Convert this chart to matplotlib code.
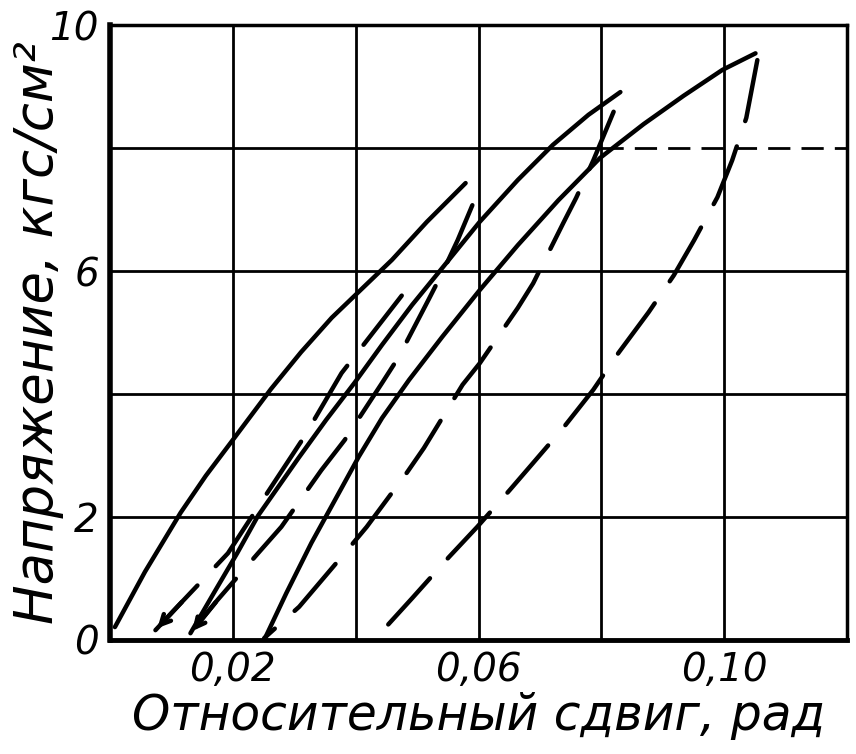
import matplotlib.pyplot as plt

# loading curves (solid)
load1_x = [0.0008, 0.0057, 0.0115, 0.0156, 0.0202, 0.0262, 0.0311, 0.0361, 0.0410, 0.0459, 0.0516, 0.0579]
load1_y = [0.21, 1.11, 2.07, 2.67, 3.28, 4.08, 4.68, 5.24, 5.71, 6.18, 6.80, 7.43]
load2_x = [0.0131, 0.0170, 0.0207, 0.0241, 0.0307, 0.0352, 0.0398, 0.0443, 0.0492, 0.0541,
           0.0602, 0.0664, 0.0721, 0.0779, 0.0831]
load2_y = [0.11, 0.78, 1.41, 2.02, 2.96, 3.58, 4.18, 4.80, 5.45, 6.05,
           6.80, 7.48, 8.05, 8.54, 8.91]
load3_x = [0.0251, 0.0287, 0.0328, 0.0377, 0.0405, 0.0443, 0.0487, 0.0541, 0.0602, 0.0664,
           0.0730, 0.0798, 0.0869, 0.0934, 0.0997, 0.1051]
load3_y = [0.0, 0.76, 1.58, 2.47, 2.98, 3.61, 4.23, 4.93, 5.69, 6.42,
           7.15, 7.84, 8.39, 8.85, 9.27, 9.54]

# unloading curves (dashed)
unl0_x = [0.0475, 0.0377, 0.0316, 0.0254, 0.0192, 0.0120, 0.0074]
unl0_y = [5.60, 4.34, 3.30, 2.36, 1.41, 0.65, 0.16]
unl1_x = [0.0590, 0.0566, 0.0541, 0.0520, 0.0470, 0.0443, 0.0382, 0.0344, 0.0279, 0.0241, 0.0175, 0.0131]
unl1_y = [7.07, 6.50, 5.97, 5.56, 4.60, 4.18, 3.25, 2.76, 1.84, 1.41, 0.65, 0.11]
unl2_x = [0.0820, 0.0787, 0.0759, 0.0738, 0.0689, 0.0664, 0.0602, 0.0574, 0.0511, 0.0484,
          0.0418, 0.0382, 0.0308, 0.0251]
unl2_y = [8.59, 7.80, 7.19, 6.78, 5.80, 5.40, 4.50, 4.15, 3.12, 2.73,
          1.84, 1.41, 0.54, 0.03]
unl3_x = [0.1054, 0.1036, 0.1013, 0.0989, 0.0951, 0.0918, 0.0877, 0.0828, 0.0787, 0.0738,
          0.0689, 0.0651, 0.0598, 0.0552, 0.0492, 0.0430]
unl3_y = [9.43, 8.49, 7.80, 7.20, 6.50, 5.93, 5.33, 4.67, 4.07, 3.45,
          2.88, 2.44, 1.84, 1.35, 0.68, 0.0]

xticks = [0.02, 0.06, 0.10]
xtick_labels = ['0,02', '0,06', '0,10']
yticks = [0, 2, 6, 10]
ytick_labels = ['0', '2', '6', '10']

fig = plt.figure(figsize=(8.56, 7.54), dpi=100)
ax = fig.add_axes([0.1285, 0.1512, 0.861, 0.8156])
ax.set_xlim(0, 0.12)
ax.set_ylim(0, 10)

# grid
for gx in [0.02, 0.04, 0.06, 0.08, 0.10]:
    ax.axvline(gx, color='black', lw=2.0, zorder=1)
for gy in [2, 4, 6]:
    ax.axhline(gy, color='black', lw=2.0, zorder=1)
ax.plot([0, 0.08], [8, 8], color='black', lw=2.0, zorder=1)
ax.plot([0.08, 0.12], [8, 8], color='black', lw=2.0, ls=(0, (8, 4)), zorder=1)

lw = 3.2
dash = (0, (14, 6))
for xs, ys in [(load1_x, load1_y), (load2_x, load2_y), (load3_x, load3_y)]:
    ax.plot(xs, ys, color='black', lw=lw, solid_capstyle='round', solid_joinstyle='round', zorder=3)
for xs, ys in [(unl0_x, unl0_y), (unl1_x, unl1_y), (unl2_x, unl2_y), (unl3_x, unl3_y)]:
    ax.plot(xs, ys, color='black', lw=lw, ls=dash, dash_capstyle='round', zorder=3)

# arrowheads at the ends of the first two unloading lines
for xs, ys in [(unl0_x, unl0_y), (unl1_x, unl1_y)]:
    ax.annotate('', xy=(xs[-1], ys[-1]), xytext=(xs[-2], ys[-2]),
                arrowprops=dict(arrowstyle='->,head_length=0.7,head_width=0.35',
                                color='black', lw=lw), zorder=4)

for side, w in [('left', 4.0), ('bottom', 3.5), ('top', 2.5), ('right', 2.5)]:
    ax.spines[side].set_linewidth(w)

font = dict(family='DejaVu Sans', style='italic')
ax.set_xticks(xticks)
ax.set_xticklabels(xtick_labels, fontsize=28, **font)
ax.set_yticks(yticks)
ax.set_yticklabels(ytick_labels, fontsize=28, **font)
ax.tick_params(length=0, pad=8)
ax.set_xlabel('Относительный сдвиг, рад', fontsize=35, **font)
ax.xaxis.set_label_coords(0.5, -0.085)
ax.set_ylabel('Напряжение, кгс/см²', fontsize=38, **font)
ax.yaxis.set_label_coords(-0.062, 0.5)

fig.savefig('out.png', dpi=100)
